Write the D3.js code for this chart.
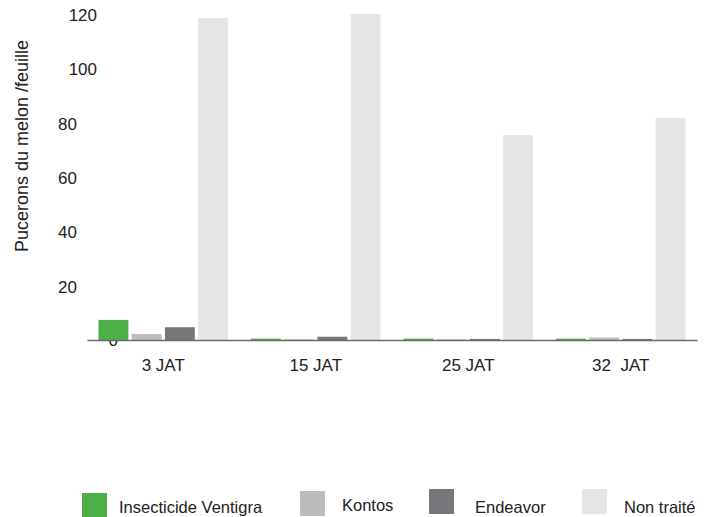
<!DOCTYPE html>
<html>
<head>
<meta charset="utf-8">
<script src="https://cdn.jsdelivr.net/npm/d3@7"></script>
<style>
  body { margin: 0; background: #fff; }
  text { font-family: "Liberation Sans", Arial, sans-serif; fill: #222; }
</style>
</head>
<body>
<div id="chart"></div>
<script>
const width = 707;
const height = 517;

// données
const categories = ["3 JAT", "15 JAT", "25 JAT", "32  JAT"];
const series = ["Insecticide Ventigra", "Kontos", "Endeavor", "Non traité"];
const ventigra = [7.4, 0.5, 0.5, 0.5];
const kontos = [2.2, 0.3, 0.3, 0.9];
const endeavor = [4.7, 1.2, 0.4, 0.4];
const nonTraite = [118.5, 120, 75.4, 81.7];
const yTicks = [0, 20, 40, 60, 80, 100, 120];
const colors = ["#4caf47", "#bcbcbd", "#77777b", "#e4e5e7"];

const values = [ventigra, kontos, endeavor, nonTraite];

const svg = d3.select("#chart").append("svg")
    .attr("width", width)
    .attr("height", height);

const x0 = d3.scaleBand()
    .domain(categories)
    .range([87, 697]);

const x1 = d3.scaleBand()
    .domain(series)
    .range([11.5, x0.bandwidth() - 11.5])
    .paddingInner(0.1);

const y = d3.scaleLinear()
    .domain([0, 120])
    .range([340, 14]);

const color = d3.scaleOrdinal().domain(series).range(colors);

// étiquettes de l'axe Y (placement irrégulier comme l'original)
const tickX = v => v === 0 ? 118 : (v >= 100 ? 97 : 77);
svg.append("g").selectAll("text")
    .data(yTicks)
    .enter().append("text")
    .attr("x", d => tickX(d))
    .attr("y", d => y(d) + (d === 0 ? 0 : 1))
    .attr("dy", "0.35em")
    .style("text-anchor", "end")
    .style("font-size", "17px")
    .text(d => d);

svg.append("text")
    .attr("transform", `translate(28,${146}) rotate(-90)`)
    .style("text-anchor", "middle")
    .style("font-size", "18px")
    .text("Pucerons du melon /feuille");

// barres
const groups = svg.append("g").selectAll("g")
    .data(categories)
    .enter().append("g")
    .attr("transform", d => `translate(${x0(d)},0)`);

groups.selectAll("rect")
    .data((c, i) => series.map((s, j) => ({ key: s, value: values[j][i] })))
    .enter().append("rect")
    .attr("x", d => x1(d.key))
    .attr("width", x1.bandwidth())
    .attr("y", d => y(d.value))
    .attr("height", d => y(0) - y(d.value))
    .attr("fill", d => color(d.key));

// axe X
const xAxis = svg.append("g")
    .attr("transform", `translate(0,${y(0)})`)
    .call(d3.axisBottom(x0).tickSize(0).tickSizeOuter(0).tickPadding(19));
xAxis.select(".domain")
    .attr("stroke", "#6b6b6b")
    .attr("stroke-width", 1.6);
xAxis.selectAll("text")
    .style("font-size", "17px")
    .style("font-family", "'Liberation Sans', Arial, sans-serif")
    .attr("fill", "#222")
    .attr("xml:space", "preserve")
    .style("white-space", "pre");

// légende
const legendX = [82, 300, 429, 582];
const legendTextX = [119, 342, 475, 624];
const legendY = [493, 491, 489, 489];
const legend = svg.append("g").selectAll("g")
    .data(series)
    .enter().append("g");

legend.append("rect")
    .attr("x", (d, i) => legendX[i])
    .attr("y", (d, i) => legendY[i])
    .attr("width", 25)
    .attr("height", 25)
    .attr("fill", d => color(d));

legend.append("text")
    .attr("x", (d, i) => legendTextX[i])
    .attr("y", (d, i) => [513, 511, 513, 513][i])
    .style("font-size", "16.5px")
    .text(d => d);
</script>
</body>
</html>
